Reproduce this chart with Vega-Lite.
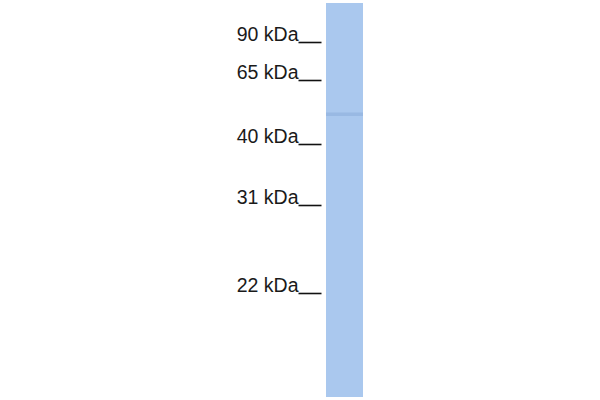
{
  "$schema": "https://vega.github.io/schema/vega-lite/v6.json",
  "width": 37,
  "height": 400,
  "autosize": {"type": "none"},
  "padding": {"left": 326, "top": 0, "right": 237, "bottom": 0},
  "background": "white",
  "config": {"view": {"stroke": null}},
  "datasets": {
    "lane": [{"x": 0, "x2": 1, "y": 3, "y2": 397}],
    "band": [{"x": 0, "x2": 1, "y": 112.5, "y2": 116}],
    "markers": [
      {"kDa": 90, "pos": 42},
      {"kDa": 65, "pos": 80},
      {"kDa": 40, "pos": 144},
      {"kDa": 31, "pos": 205},
      {"kDa": 22, "pos": 293}
    ]
  },
  "layer": [
    {
      "data": {"name": "lane"},
      "mark": {"type": "rect", "fill": "#aac8ee"},
      "encoding": {
        "x": {"field": "x", "type": "quantitative", "scale": {"domain": [0, 1]}, "axis": null},
        "x2": {"field": "x2"},
        "y": {
          "field": "y",
          "type": "quantitative",
          "scale": {"domain": [0, 400], "reverse": true, "nice": false, "zero": false},
          "axis": {
            "orient": "left",
            "domain": false,
            "grid": false,
            "title": null,
            "offset": 5,
            "values": [42, 80, 144, 205, 293],
            "tickSize": 23,
            "tickWidth": 1.6,
            "tickColor": "#111111",
            "labelExpr": "({'42': '90 kDa', '80': '65 kDa', '144': '40 kDa', '205': '31 kDa', '293': '22 kDa'})[datum.value + '']",
            "labelFont": "Liberation Sans",
            "labelFontSize": 19.5,
            "labelColor": "#1a1a1a",
            "labelPadding": 0,
            "labelBaseline": "alphabetic",
            "labelOffset": -2,
            "labelFlush": false,
            "labelOverlap": false
          }
        },
        "y2": {"field": "y2"}
      }
    },
    {
      "data": {"name": "band"},
      "mark": {"type": "rect", "fill": "#90b0dd", "opacity": 0.65},
      "encoding": {
        "x": {"field": "x", "type": "quantitative"},
        "x2": {"field": "x2"},
        "y": {"field": "y", "type": "quantitative"},
        "y2": {"field": "y2"}
      }
    }
  ]
}
